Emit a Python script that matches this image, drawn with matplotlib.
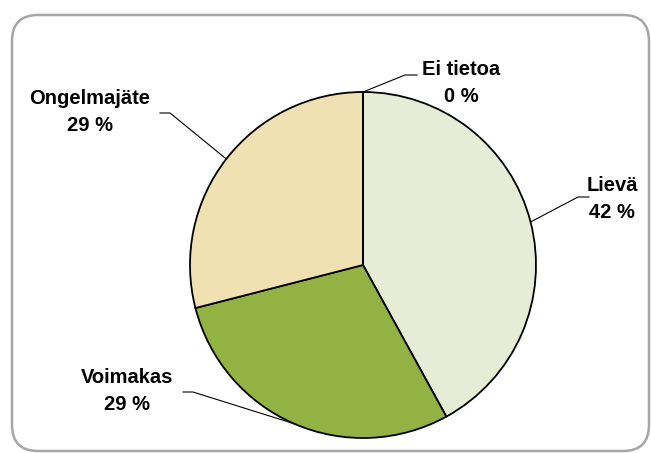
import numpy as np
import matplotlib
matplotlib.use("Agg")
import matplotlib.pyplot as plt
from matplotlib.patches import FancyBboxPatch

# data
categories = ["Lievä", "Voimakas", "Ongelmajäte", "Ei tietoa"]
values = [42, 29, 29, 0]
colors = ["#E6ECD5", "#92B244", "#F0E1B2", "#C8C8C8"]

# label layout (pixel coords, y from top): text centre and elbow of leader
label_pos = {
    "Lievä": (612, 199),
    "Voimakas": (127, 391),
    "Ongelmajäte": (90, 112),
    "Ei tietoa": (461, 83),
}
elbows = {
    "Lievä": [(589, 197), (578, 197)],
    "Voimakas": [(183, 392), (193, 392)],
    "Ongelmajäte": [(160, 113), (170, 113)],
    "Ei tietoa": [(417, 75), (405, 75)],
}

W, H = 651, 453
fig = plt.figure(figsize=(W / 100, H / 100), dpi=100)
ax = fig.add_axes([0, 0, 1, 1])

cx, cy, r = 363, H - 265, 173
wedges, _ = ax.pie(values, colors=colors, startangle=90, counterclock=False,
                   center=(cx, cy), radius=r,
                   wedgeprops=dict(edgecolor="black", linewidth=1.3))

ax.set_xlim(0, W)
ax.set_ylim(0, H)
ax.set_aspect("equal")
ax.axis("off")

# rounded frame
frame = FancyBboxPatch((12, H - 451), 637, 436,
                       boxstyle="round,pad=0,rounding_size=26",
                       facecolor="none", edgecolor="#A6A6A6", linewidth=1.8)
ax.add_patch(frame)

for w, name, val in zip(wedges, categories, values):
    mid = np.deg2rad((w.theta1 + w.theta2) / 2)
    ax_x = cx + r * np.cos(mid)
    ax_y = cy + r * np.sin(mid)
    pts = elbows[name]
    xs = [p[0] for p in pts] + [ax_x]
    ys = [H - p[1] for p in pts] + [ax_y]
    ax.plot(xs, ys, color="black", linewidth=0.8)
    tx, ty = label_pos[name]
    ax.text(tx, H - ty, f"{name}\n{val} %", ha="center", va="center",
            fontsize=14.5, fontweight="bold", family="Liberation Sans",
            linespacing=1.5)

fig.savefig("out.png", dpi=100)
